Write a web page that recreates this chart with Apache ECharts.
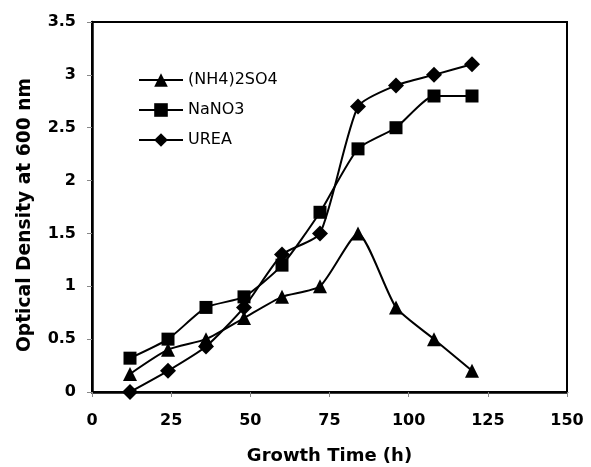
<!DOCTYPE html>
<html><head><meta charset="utf-8">
<script src="https://cdn.jsdelivr.net/npm/echarts@6/dist/echarts.min.js"></script>
<style>html,body{margin:0;padding:0;background:#fff}#c{width:591px;height:467px}</style>
</head><body><div id="c"></div>
<script>
const times = [12, 24, 36, 48, 60, 72, 84, 96, 108, 120];
const ammonium = [0.17, 0.4, 0.5, 0.7, 0.9, 1.0, 1.5, 0.8, 0.5, 0.2];
const nitrate = [0.32, 0.5, 0.8, 0.9, 1.2, 1.7, 2.3, 2.5, 2.8, 2.8];
const urea = [0.0, 0.2, 0.43, 0.8, 1.3, 1.5, 2.7, 2.9, 3.0, 3.1];
const seriesNames = ['(NH4)2SO4', 'NaNO3', 'UREA'];

const font = 'DejaVu Sans, sans-serif';
const chart = echarts.init(document.getElementById('c'), null, {renderer: 'canvas'});
function mk(name, vals, symbol, size) {
  return {
    name: name, type: 'line', smooth: 0.2,
    data: times.map((t, i) => [t, vals[i]]),
    symbol: symbol, symbolSize: size,
    lineStyle: {color: '#000', width: 2},
    itemStyle: {color: '#000'},
    emphasis: {disabled: true}
  };
}
chart.setOption({
  animation: false,
  backgroundColor: '#fff',
  grid: {left: 92, right: 24, top: 22, bottom: 75, show: true, borderColor: '#000', borderWidth: 2,
         containLabel: false, outerBoundsMode: 'none'},
  legend: {
    orient: 'vertical', left: 133, top: 67, itemGap: 14,
    itemWidth: 44, itemHeight: 17,
    data: seriesNames,
    textStyle: {fontFamily: font, fontSize: 16, color: '#000'}
  },
  xAxis: {
    type: 'value', min: 0, max: 150, interval: 25,
    name: 'Growth Time (h)', nameLocation: 'middle', nameGap: 55,
    nameTextStyle: {fontFamily: font, fontSize: 18, fontWeight: 'bold', color: '#000'},
    axisLine: {lineStyle: {color: '#000', width: 2.5}},
    axisTick: {show: true, length: 5, lineStyle: {color: '#888', width: 1}},
    axisLabel: {fontFamily: font, fontSize: 16, fontWeight: 'bold', color: '#000', margin: 21},
    splitLine: {show: false}
  },
  yAxis: {
    type: 'value', min: 0, max: 3.5, interval: 0.5,
    name: 'Optical Density at 600 nm', nameLocation: 'middle', nameGap: 57,
    nameTextStyle: {fontFamily: font, fontSize: 18.7, fontWeight: 'bold', color: '#000', padding: [0, 16, 0, 0]},
    axisLine: {show: true, lineStyle: {color: '#000', width: 2.5}},
    axisTick: {show: true, length: 5, lineStyle: {color: '#888', width: 1}},
    axisLabel: {fontFamily: font, fontSize: 16, fontWeight: 'bold', color: '#000', margin: 16},
    splitLine: {show: false}
  },
  series: [
    mk(seriesNames[0], ammonium, 'triangle', 14),
    mk(seriesNames[1], nitrate, 'rect', 13),
    mk(seriesNames[2], urea, 'diamond', 16)
  ]
});
</script></body></html>
